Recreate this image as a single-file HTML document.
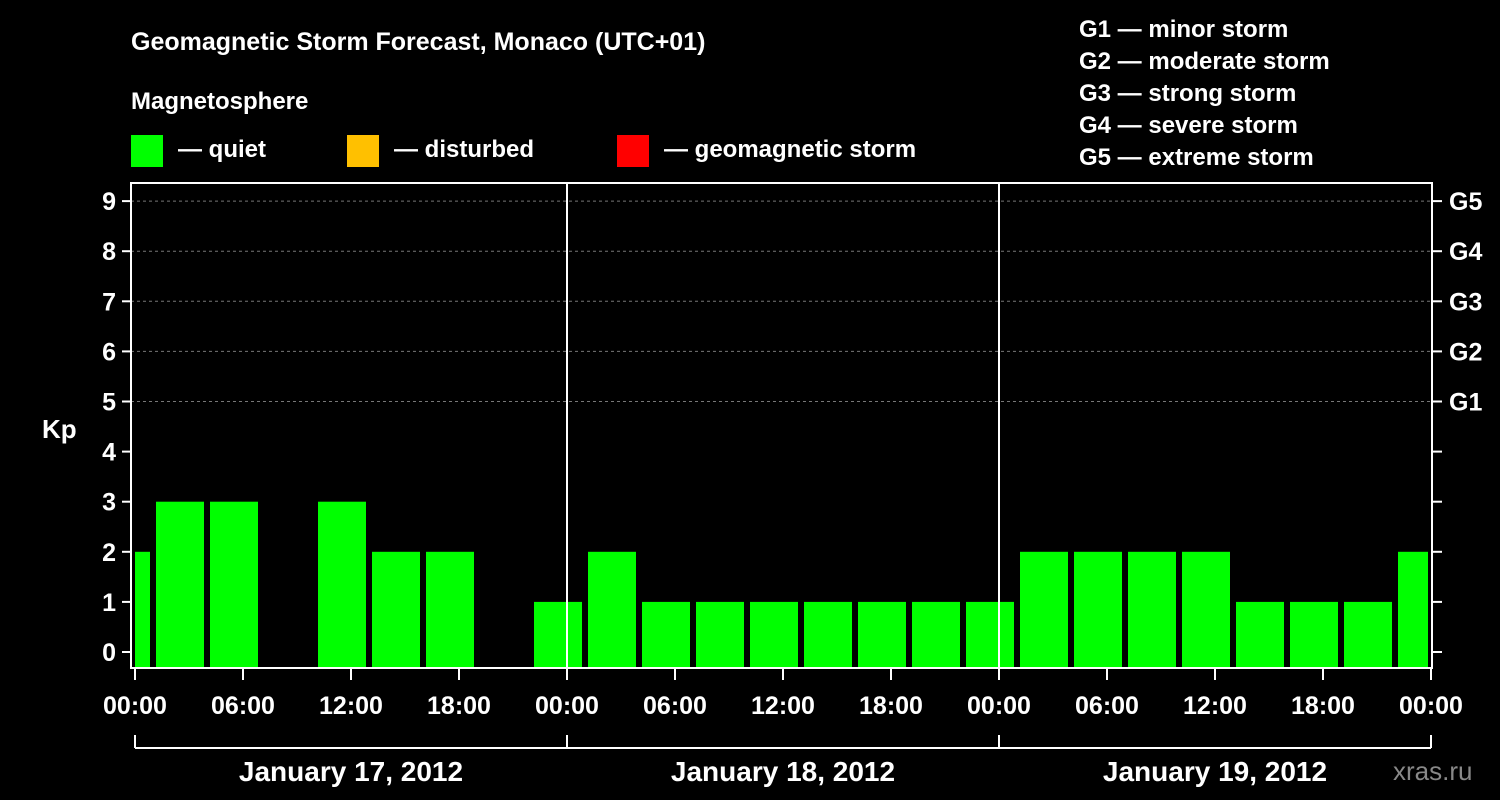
<!DOCTYPE html>
<html><head><meta charset="utf-8"><style>
body{margin:0;background:#000;}
svg{display:block;font-family:"Liberation Sans",Arial,sans-serif;font-weight:bold;}
</style></head><body>
<svg width="1500" height="800" viewBox="0 0 1500 800" xmlns="http://www.w3.org/2000/svg">
<rect width="1500" height="800" fill="#000"/>
<text x="131" y="50" fill="#fff" font-size="25">Geomagnetic Storm Forecast, Monaco (UTC+01)</text>
<text x="131" y="109" fill="#fff" font-size="24">Magnetosphere</text>
<g><rect x="131" y="135" width="32" height="32" fill="#00ff00"/><text x="178" y="157" fill="#fff" font-size="24">— quiet</text></g>
<g><rect x="347" y="135" width="32" height="32" fill="#ffc000"/><text x="394" y="157" fill="#fff" font-size="24">— disturbed</text></g>
<g><rect x="617" y="135" width="32" height="32" fill="#ff0000"/><text x="664" y="157" fill="#fff" font-size="24">— geomagnetic storm</text></g>
<g fill="#fff" font-size="24">
<text x="1079" y="37">G1 — minor storm</text><text x="1079" y="69">G2 — moderate storm</text><text x="1079" y="101">G3 — strong storm</text><text x="1079" y="133">G4 — severe storm</text><text x="1079" y="165">G5 — extreme storm</text>
</g>
<text x="42" y="438" fill="#fff" font-size="26">Kp</text>
<text x="1393" y="780" fill="#888" font-size="26" font-weight="normal">xras.ru</text>
<defs><clipPath id="pc"><rect x="135" y="183" width="1293" height="485"/></clipPath></defs>
<g id="grid"></g>
<g id="bars" clip-path="url(#pc)"></g>
<g id="axes"></g>
</svg>
<script>
const hours=[-0.5,2.5,5.5,8.5,11.5,14.5,17.5,20.5,23.5,26.5,29.5,32.5,35.5,38.5,41.5,44.5,47.5,50.5,53.5,56.5,59.5,62.5,65.5,68.5,71.5];
const kp=[2,3,3,0,3,2,2,0,1,2,1,1,1,1,1,1,1,2,2,2,2,1,1,1,2];
const yTicks=[0,1,2,3,4,5,6,7,8,9];
const gLabels=["G1","G2","G3","G4","G5"];
const xTickHours=[0,6,12,18,24,30,36,42,48,54,60,66,72];
const xTickLabels=["00:00","06:00","12:00","18:00","00:00","06:00","12:00","18:00","00:00","06:00","12:00","18:00","00:00"];
const days=["January 17, 2012","January 18, 2012","January 19, 2012"];
const NS="http://www.w3.org/2000/svg";
const X=h=>135+h*18, Y=v=>652-v*50.1;
function mk(t,a,p){const e=document.createElementNS(NS,t);for(const k in a)e.setAttribute(k,a[k]);p.appendChild(e);return e;}
const grid=document.getElementById('grid'),bars=document.getElementById('bars'),axes=document.getElementById('axes');
for(let v=5;v<=9;v++){const l=mk('line',{x1:131,x2:1432,y1:Y(v),y2:Y(v),stroke:'#777','stroke-dasharray':'3,3'},grid);

}
hours.forEach((h,i)=>{if(kp[i]<=0)return;
const c=kp[i]>=5?'#ff0000':(kp[i]>=4?'#ffc000':'#00ff00');
const r=mk('rect',{x:X(h)-24,y:Y(kp[i]),width:48,height:668-Y(kp[i]),fill:c},bars);

});
mk('rect',{x:131,y:183,width:1301,height:485,fill:'none',stroke:'#fff','stroke-width':2},axes);
[24,48].forEach(h=>mk('line',{x1:X(h),x2:X(h),y1:183,y2:668,stroke:'#fff','stroke-width':2},axes));
yTicks.forEach(v=>{mk('line',{x1:122,x2:131,y1:Y(v),y2:Y(v),stroke:'#fff','stroke-width':2},axes);
mk('line',{x1:1432,x2:1442,y1:Y(v),y2:Y(v),stroke:'#fff','stroke-width':2},axes);
const t=mk('text',{x:116,y:Y(v)+9,fill:'#fff','font-size':25,'text-anchor':'end'},axes);t.textContent=v;

});
gLabels.forEach((g,i)=>{const t=mk('text',{x:1449,y:Y(5+i)+9,fill:'#fff','font-size':25},axes);t.textContent=g;

});
xTickHours.forEach((h,i)=>{mk('line',{x1:X(h),x2:X(h),y1:668,y2:680,stroke:'#fff','stroke-width':2},axes);
const t=mk('text',{x:X(h),y:714,fill:'#fff','font-size':25,'text-anchor':'middle'},axes);t.textContent=xTickLabels[i];

});
mk('line',{x1:X(0),x2:X(72),y1:748,y2:748,stroke:'#fff','stroke-width':2},axes);
[0,24,48,72].forEach(h=>mk('line',{x1:X(h),x2:X(h),y1:735,y2:748,stroke:'#fff','stroke-width':2},axes));
days.forEach((d,i)=>{const t=mk('text',{x:X(i*24+12),y:781,fill:'#fff','font-size':28,'text-anchor':'middle'},axes);t.textContent=d;

});
</script>
</body></html>
